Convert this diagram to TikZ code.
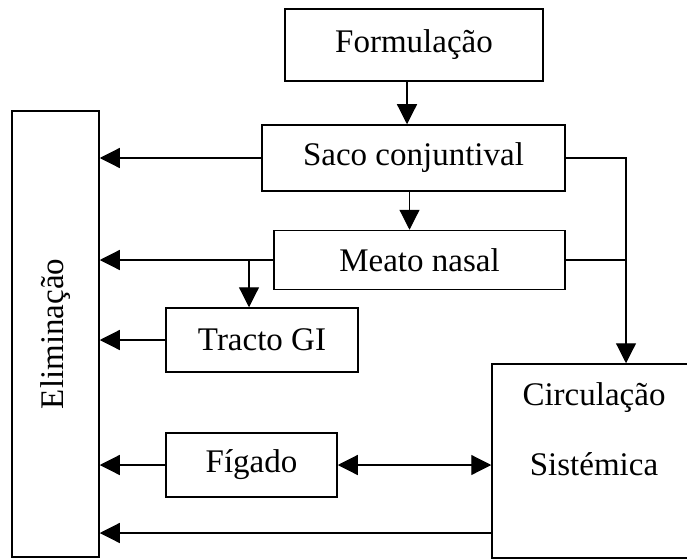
\documentclass[tikz,border=0pt]{standalone}
\usepackage{fontspec}
\setmainfont{Liberation Serif}
\usepackage{graphicx}
\usetikzlibrary{arrows.meta}

\begin{document}
\begin{tikzpicture}[x=1pt,y=-1pt,
    box/.style={draw, line width=1.5pt, inner sep=0pt, font=\fontsize{33}{39}\selectfont},
    link/.style={line width=1.2pt},
    arr/.style={link, -{Triangle[length=20pt,width=20pt]}},
    twoarr/.style={link, {Triangle[length=20pt,width=20pt]}-{Triangle[length=20pt,width=20pt]}}]

      \useasboundingbox (0,0) rectangle (687,559);

      \node[box, minimum width=258pt, minimum height=72pt] (form) at (414,45) {Formulação};
      \node[box, minimum width=87pt, minimum height=446pt] (elim) at (55.5,334) {\rotatebox{90}{Eliminação}};
      \node[box, minimum width=303pt, minimum height=66pt] (saco) at (413.5,158) {Saco conjuntival};
      \node[box, minimum width=291pt, minimum height=59pt] (meato) at (419.5,260) {Meato nasal};
      \node[box, minimum width=192pt, minimum height=64pt] (tracto) at (262,340) {Tracto GI};
      \node[box, minimum width=171pt, minimum height=64pt] (figado) at (251.5,465) {Fígado};
      \node[box, minimum width=204pt, minimum height=194pt] (circ) at (594,461) {};
      \node[font=\fontsize{33}{39}\selectfont, align=center, anchor=north] (circtext) at ([yshift=-16pt]circ.north) {Circulação\\[31pt]Sistémica};

      \coordinate (drop) at ([xshift=32pt]circ.north);

      \draw[arr] ([xshift=-7pt]form.south) -- ([xshift=-7pt]form.south |- saco.north);
      \draw[arr] ([xshift=-4pt]saco.south) -- ([xshift=-4pt]saco.south |- meato.north);
      \draw[arr] (saco.west) -- (saco.west -| elim.east);
      \draw[arr] (meato.west) -- (meato.west -| elim.east);
      \draw[arr] ([xshift=-13pt]tracto.north |- meato.west) -- ([xshift=-13pt]tracto.north);
      \draw[arr] (tracto.west) -- (tracto.west -| elim.east);
      \draw[arr] (saco.east) -| (drop);
      \draw[link] (meato.east) -- (meato.east -| drop);
      \draw[arr] (figado.west) -- (figado.west -| elim.east);
      \draw[twoarr] (figado.east) -- (figado.east -| circ.west);
      \draw[arr] ([yshift=-72pt]circ.west) -- ([yshift=-72pt]circ.west -| elim.east);

\end{tikzpicture}
\end{document}
